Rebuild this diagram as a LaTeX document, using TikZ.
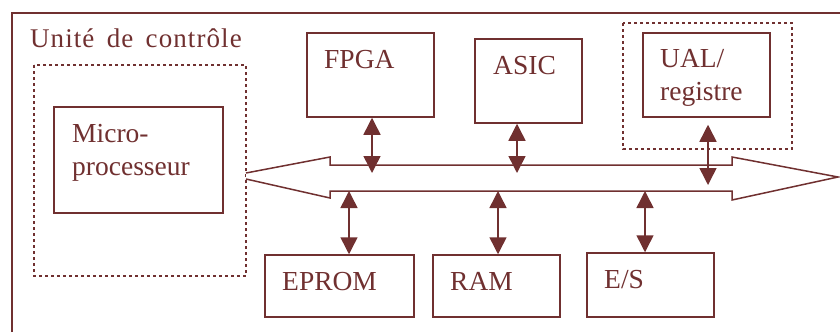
\documentclass[tikz,border=0pt]{standalone}
\usepackage{fontspec}
\setmainfont{Liberation Serif}
\usetikzlibrary{arrows.meta}
\definecolor{bordeaux}{RGB}{112,48,48}

\begin{document}
\begin{tikzpicture}[
        x=1pt, y=-1pt,
        every node/.style={font=\fontsize{27.5}{33}\selectfont, text=bordeaux, inner sep=0pt},
        box/.style={draw=bordeaux, line width=1.5pt, fill=white},
        zone/.style={draw=bordeaux, line width=1.5pt, dash pattern=on 3pt off 3pt},
        link/.style={draw=bordeaux, line width=1.5pt, {Triangle[width=17pt,length=17pt]}-{Triangle[width=17pt,length=17pt]}},
    ]
    \useasboundingbox (0,0) rectangle (840,332);

    % Outer frame
    \draw[bordeaux, line width=1.5pt] (12,332) |- (840,13);
    \node[anchor=base west, font=\fontsize{27}{33}\selectfont\addfontfeature{LetterSpace=4}] (titre) at (30,47) {Unité\, de\, contrôle};

    % Dashed zones
    \draw[zone] (34,65) rectangle (246,276);
    \draw[zone] (623,23) rectangle (792,149);

    % Bus (hollow double arrow)
    \draw[bordeaux, line width=1.5pt, fill=white] (246,173) -- (330,157) -- (330,165) -- (732,165) -- (732,157) -- (838,177)
        -- (732,200) -- (732,191) -- (330,191) -- (330,198) -- (246,179);
    \coordinate (b1) at (372,173);
    \coordinate (b2) at (517,173);
    \coordinate (b3) at (708,185);
    \coordinate (b4) at (349,191);
    \coordinate (b5) at (498,191);
    \coordinate (b6) at (645,191);

    % Boxes
    \node[box, minimum width=169pt, minimum height=106pt] (micro) at (138.5,160) {};
    \node[box, minimum width=127pt, minimum height=84pt] (fpga) at (370.5,75) {};
    \node[box, minimum width=107pt, minimum height=84pt] (asic) at (528.5,81) {};
    \node[box, minimum width=127pt, minimum height=84pt] (ual) at (706.5,75) {};
    \node[box, minimum width=149pt, minimum height=62pt] (eprom) at (339.5,286) {};
    \node[box, minimum width=127pt, minimum height=62pt] (ram) at (496.5,286) {};
    \node[box, minimum width=127pt, minimum height=64pt] (es) at (650.5,285) {};

    % Box texts (base = last line)
    \node[anchor=base west, align=left] (microT) at (72,175) {Micro-\\processeur};
    \node[anchor=base west] (fpgaT) at (324,68) {FPGA};
    \node[anchor=base west] (asicT) at (493,74) {ASIC};
    \node[anchor=base west, align=left] (ualT) at (660,100) {UAL/\\registre};
    \node[anchor=base west] (epromT) at (282,290) {EPROM};
    \node[anchor=base west] (ramT) at (450,290) {RAM};
    \node[anchor=base west] (esT) at (604,288) {E/S};

    % Links to the bus
    \draw[link] (fpga.south -| b1) -- (b1);
    \draw[link] (asic.south -| b2) -- (b2);
    \draw[link, shorten <=7pt] (ual.south -| b3) -- (b3);
    \draw[link] (b4) -- (eprom.north -| b4);
    \draw[link] (b5) -- (ram.north -| b5);
    \draw[link] (b6) -- (es.north -| b6);
\end{tikzpicture}
\end{document}
